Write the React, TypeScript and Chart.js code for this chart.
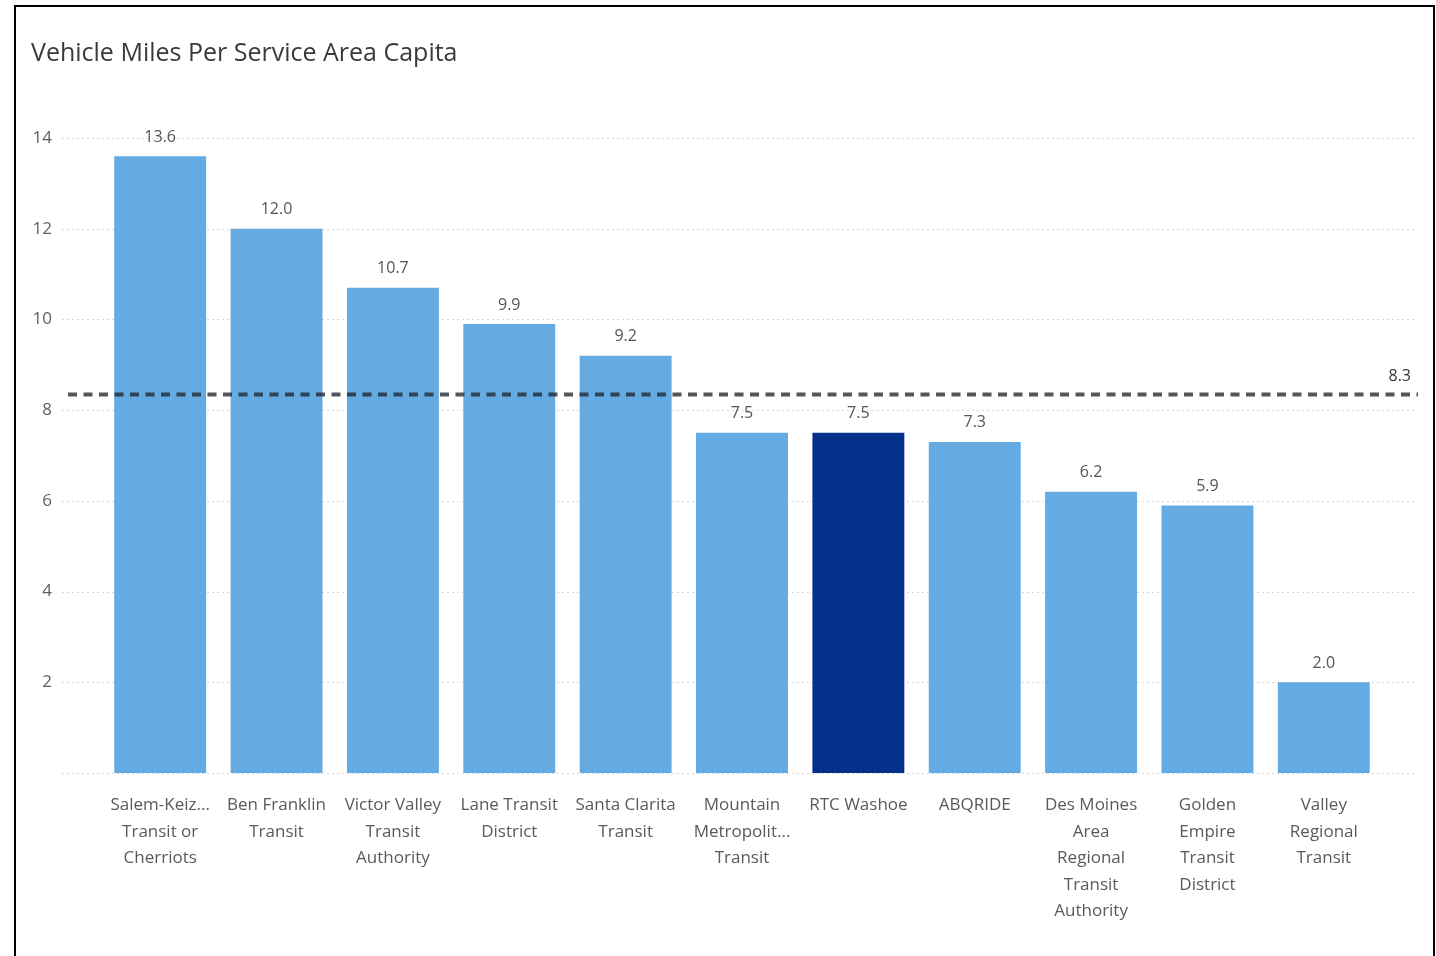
import React, { useEffect, useRef } from "react";
import { Chart, registerables } from "chart.js";

Chart.register(...registerables);

const chartTitle = "Vehicle Miles Per Service Area Capita";
const categories: string[][] = [
  ["Salem-Keiz...", "Transit or", "Cherriots"],
  ["Ben Franklin", "Transit"],
  ["Victor Valley", "Transit", "Authority"],
  ["Lane Transit", "District"],
  ["Santa Clarita", "Transit"],
  ["Mountain", "Metropolit...", "Transit"],
  ["RTC Washoe"],
  ["ABQRIDE"],
  ["Des Moines", "Area", "Regional", "Transit", "Authority"],
  ["Golden", "Empire", "Transit", "District"],
  ["Valley", "Regional", "Transit"],
];
const vehicleMiles: number[] = [13.6, 12.0, 10.7, 9.9, 9.2, 7.5, 7.5, 7.3, 6.2, 5.9, 2.0];
const highlighted: boolean[] = [false, false, false, false, false, false, true, false, false, false, false];
const averageLine = 8.345;
const averageLabel = "8.3";
const yTicks: number[] = [0, 2, 4, 6, 8, 10, 12, 14];

const FONT = "'Open Sans', 'Noto Sans', sans-serif";
const LIGHT = "#64ABE3";
const DARK = "#03318A";

const extrasPlugin = {
  id: "extras",
  beforeDatasetsDraw(chart: any) {
    const ctx = chart.ctx;
    const y = chart.scales.y;
    ctx.save();
    ctx.strokeStyle = "#d8d8d8";
    ctx.lineWidth = 1;
    ctx.setLineDash([2, 3]);
    yTicks.forEach((v) => {
      const py = Math.round(y.getPixelForValue(v)) + 0.5;
      ctx.beginPath();
      ctx.moveTo(62, py);
      ctx.lineTo(1415, py);
      ctx.stroke();
    });
    ctx.restore();
  },
  afterDatasetsDraw(chart: any) {
    const ctx = chart.ctx;
    const meta = chart.getDatasetMeta(0);
    ctx.save();
    ctx.font = `16px ${FONT}`;
    ctx.fillStyle = "#555";
    ctx.textAlign = "center";
    ctx.textBaseline = "middle";
    meta.data.forEach((bar: any, i: number) => {
      ctx.fillText(vehicleMiles[i].toFixed(1), bar.x, bar.y - 19);
    });
    // average line
    const y = chart.scales.y;
    const py = y.getPixelForValue(averageLine);
    ctx.strokeStyle = "rgba(35,38,48,0.78)";
    ctx.lineWidth = 4;
    ctx.setLineDash([9, 6.5]);
    ctx.beginPath();
    ctx.moveTo(68, py);
    ctx.lineTo(1418, py);
    ctx.stroke();
    ctx.setLineDash([]);
    ctx.fillStyle = "#333";
    ctx.textAlign = "right";
    ctx.fillText(averageLabel, 1411, py - 18);
    ctx.restore();
  },
};

export default function App() {
  const ref = useRef<HTMLCanvasElement | null>(null);
  useEffect(() => {
    document.body.style.margin = "0";
    const chart = new Chart(ref.current!, {
      type: "bar",
      data: {
        labels: categories,
        datasets: [
          {
            data: vehicleMiles,
            backgroundColor: highlighted.map((h) => (h ? DARK : LIGHT)),
            categoryPercentage: 0.79,
            barPercentage: 1,
          },
        ],
      },
      options: {
        animation: false,
        responsive: false,
        devicePixelRatio: 1,
        layout: { padding: { top: 138, left: 0, right: 54, bottom: 0 } },
        plugins: {
          legend: { display: false },
          tooltip: { enabled: false },
          title: { display: false },
        },
        scales: {
          x: {
            grid: { display: false, drawTicks: false },
            border: { display: false },
            ticks: {
              color: "#5a5a5a",
              font: { family: FONT, size: 17, lineHeight: 1.56 },
              padding: 19,
              maxRotation: 0,
              autoSkip: false,
            },
            afterFit: (s: any) => {
              s.height = 183;
            },
          },
          y: {
            min: 0,
            max: 14,
            afterBuildTicks: (s: any) => {
              s.ticks = yTicks.map((v) => ({ value: v }));
            },
            grid: { display: false, drawTicks: false },
            border: { display: false },
            ticks: {
              color: "#5f5f5f",
              font: { family: FONT, size: 17 },
              padding: 50,
              callback: (v: any) => (v === 0 ? "" : String(v)),
            },
            afterFit: (s: any) => {
              s.width = 102;
            },
          },
        },
      },
      plugins: [extrasPlugin],
    });
    return () => chart.destroy();
  }, []);
  return (
    <div style={{ position: "relative", width: 1436, height: 956, overflow: "hidden", background: "#fff" }}>
      <canvas ref={ref} width={1436} height={956} style={{ position: "absolute", left: 0, top: 0, width: 1436, height: 956 }} />
      <div
        style={{
          position: "absolute",
          left: 14,
          top: 5,
          width: 1421,
          height: 1000,
          border: "2px solid #000",
          boxSizing: "border-box",
          pointerEvents: "none",
        }}
      />
      <div
        style={{
          position: "absolute",
          left: 31,
          top: 33,
          fontFamily: FONT,
          fontSize: 25,
          color: "#3a3a3a",
          lineHeight: "36px",
          whiteSpace: "nowrap",
        }}
      >
        {chartTitle}
      </div>
    </div>
  );
}
